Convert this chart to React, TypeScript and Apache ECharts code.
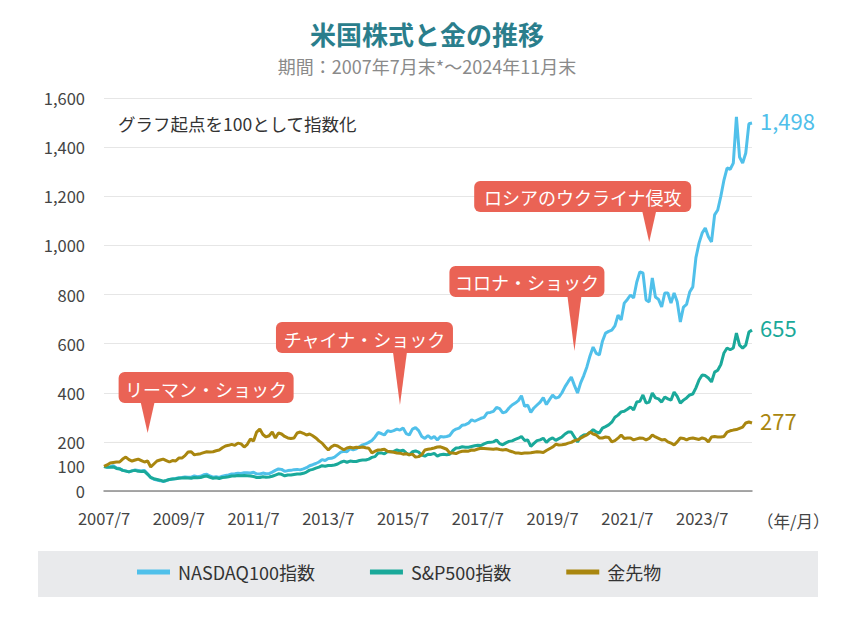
import React, { useEffect, useRef } from "react";
import * as echarts from "echarts";

// ---- data (monthly, 2007/7 – 2024/11, start = 100) ----
const nasdaq100: number[] = [
  100, 98, 99, 103, 94, 92,
  84, 82, 78, 82, 86, 84, 82, 83, 70, 55, 48, 45,
  42, 38, 42, 47, 49, 51, 54, 55, 57, 56, 56, 61,
  58, 60, 66, 68, 61, 56, 58, 55, 60, 63, 65, 69,
  70, 72, 71, 74, 74, 73, 76, 70, 69, 73, 70, 71,
  77, 84, 90, 88, 80, 83, 84, 87, 88, 86, 90, 95,
  103, 107, 112, 118, 128, 124, 132, 133, 138, 148, 158, 162,
  160, 172, 168, 172, 180, 188, 192, 198, 206, 220, 238, 234,
  228, 245, 242, 246, 252, 248, 256, 234, 228, 252, 258, 246,
  222, 214, 226, 214, 222, 208, 222, 220, 222, 226, 244, 252,
  256, 268, 270, 276, 290, 284, 290, 296, 300, 318, 320, 324,
  340, 335, 318, 322, 338, 350, 358, 368, 388, 345, 350, 320,
  338, 350, 362, 380, 352, 372, 390, 378, 382, 400, 425, 445,
  464, 430, 399, 440, 470, 505, 550, 586, 560, 554, 610, 643,
  650, 655, 672, 716, 696, 765, 780, 798, 786, 850, 892, 888,
  778, 770, 867, 790, 780, 749, 806, 806, 765, 806, 770, 688,
  749, 760, 810, 831, 950, 1009, 1050, 1071, 1035, 1014, 1124, 1144,
  1200, 1266, 1315, 1310, 1335, 1523, 1360, 1335, 1376, 1495, 1498,
];

const sp500: number[] = [
  100, 97, 97, 98, 92, 90,
  84, 81, 78, 82, 84, 80, 79, 80, 68, 55, 50, 47,
  44, 40, 43, 47, 49, 50, 52, 53, 54, 53, 52, 55,
  54, 55, 59, 61, 56, 52, 54, 51, 55, 56, 58, 61,
  61, 63, 62, 63, 62, 61, 59, 55, 55, 58, 56, 57,
  60, 65, 70, 68, 62, 65, 65, 67, 69, 69, 72, 77,
  85, 88, 93, 97, 103, 101, 104, 104, 106, 110, 117, 122,
  117, 122, 120, 120, 124, 126, 126, 130, 137, 140, 155, 155,
  151, 161, 160, 161, 167, 163, 166, 155, 147, 160, 163, 158,
  146, 142, 150, 149, 153, 142, 148, 150, 148, 150, 165, 175,
  176, 180, 178, 178, 181, 184, 186, 185, 192, 197, 198, 200,
  208, 193, 188, 196, 202, 204, 210, 215, 222, 206, 208, 182,
  194, 205, 208, 215, 198, 210, 216, 206, 213, 220, 232, 240,
  240, 220, 200, 220, 228, 230, 238, 250, 240, 236, 256, 262,
  269, 280, 300, 309, 322, 325, 333, 342, 330, 362, 365, 391,
  358, 362, 399, 379, 375, 362, 383, 375, 370, 403, 385, 358,
  370, 379, 391, 395, 420, 452, 472, 470, 460, 444, 484, 492,
  515, 562, 582, 575, 582, 643, 594, 582, 594, 647, 655,
];

const goldFutures: number[] = [
  100, 106, 114, 116, 118, 118,
  130, 138, 128, 122, 126, 130, 124, 118, 122, 98, 110, 122,
  126, 130, 124, 118, 124, 122, 134, 134, 144, 159, 160, 147,
  150, 152, 156, 160, 159, 160, 164, 167, 176, 183, 186, 190,
  186, 195, 192, 179, 190, 212, 204, 240, 252, 230, 220, 225,
  240, 216, 236, 232, 222, 216, 214, 216, 236, 240, 235, 228,
  232, 225, 216, 204, 195, 180, 167, 180, 187, 183, 175, 168,
  175, 178, 175, 178, 177, 179, 176, 174, 155, 162, 167, 168,
  170, 162, 160, 158, 155, 154, 150, 152, 147, 150, 138, 140,
  148, 167, 170, 172, 175, 179, 180, 175, 170, 155, 155, 152,
  158, 162, 163, 162, 167, 166, 171, 174, 173, 172, 171, 170,
  172, 169, 167, 169, 164, 160, 155, 155, 153, 155, 155, 156,
  158, 160, 159, 157, 165, 172, 179, 190, 187, 188, 190, 195,
  198, 205, 208, 215, 222, 228, 240, 232, 228, 216, 216, 220,
  218, 200, 205, 215, 228, 214, 216, 216, 208, 212, 216, 215,
  208, 214, 228, 220, 214, 208, 210, 200, 195, 187, 200, 216,
  214, 208, 214, 216, 213, 210, 216, 212, 200, 220, 222, 220,
  220, 222, 240, 245, 248, 250, 255, 260, 277, 281, 277,
];

const seriesNames = ["NASDAQ100指数", "S&P500指数", "金先物"];
const yLabelValues = [0, 100, 200, 400, 600, 800, 1000, 1200, 1400, 1600];

// month categories 2007/7 ...
const categories: string[] = [];
for (let k = 0; k < nasdaq100.length; k++) {
  const m = 6 + k;
  categories.push(`${2007 + Math.floor(m / 12)}/${(m % 12) + 1}`);
}

// event annotations: label, anchor category, anchor value
const eventLabels = ["リーマン・ショック", "チャイナ・ショック", "コロナ・ショック", "ロシアのウクライナ侵攻"];
const eventAnchorCats = ["2008/9", "2015/6", "2020/2", "2022/2"];
const eventAnchorVals = [236, 350, 570, 1014];

const TITLE = "米国株式と金の推移";
const SUBTITLE = "期間：2007年7月末*～2024年11月末";
const NOTE = "グラフ起点を100として指数化";
const X_UNIT = "（年/月）";

// layout of callout boxes relative to anchor tip (dx of box left, gap above tip, width)
const calloutLayout = [
  { dx: -29, gap: 30, w: 175 },
  { dx: -124, gap: 52, w: 177 },
  { dx: -125, gap: 54, w: 155 },
  { dx: -175, gap: 30, w: 217 },
];

const COLORS = ["#50c0ea", "#1aa99a", "#a9860f"];
const RED = "#ea6355";
const JP = "'Noto Sans CJK JP', 'Noto Sans', sans-serif";
const NUM = "'Noto Sans CJK JP', 'Noto Sans', sans-serif";

export default function App() {
  const ref = useRef<HTMLDivElement>(null);
  useEffect(() => {
    if (!ref.current) return;
    const chart = echarts.init(ref.current, undefined, { renderer: "svg" });
    const dataSets = [nasdaq100, sp500, goldFutures];
    const option: any = {
      animation: false,
      backgroundColor: "#ffffff",
      title: [
        {
          text: TITLE,
          left: "center",
          top: 20,
          padding: 0,
          textStyle: { fontSize: 26, fontWeight: "bold", color: "#2a7e8c", fontFamily: JP },
        },
        {
          text: SUBTITLE,
          left: "center",
          top: 57,
          padding: 0,
          textStyle: { fontSize: 18, fontWeight: "normal", color: "#8a8a8a", fontFamily: JP },
        },
      ],
      grid: { left: 104, right: 102, top: 98, bottom: 134, containLabel: false },
      legend: {
        data: seriesNames,
        left: 132,
        top: 558,
        icon: "rect",
        itemWidth: 33,
        itemHeight: 5,
        itemGap: 55,
        textStyle: { fontSize: 18, color: "#333", fontFamily: JP, padding: [0, 0, 0, 3] },
      },
      xAxis: {
        type: "category",
        data: categories,
        boundaryGap: false,
        axisLine: { lineStyle: { color: "#8c8c8c", width: 1.5 } },
        axisTick: { show: false },
        axisLabel: { interval: 23, fontSize: 16.5, color: "#444", margin: 19, fontFamily: NUM },
        splitLine: { show: false },
      },
      yAxis: {
        type: "value",
        min: 0,
        max: 1600,
        interval: 100,
        axisLine: { show: false },
        axisTick: { show: false },
        axisLabel: {
          fontSize: 16.5,
          color: "#444",
          margin: 19,
          fontFamily: NUM,
          formatter: (v: number) => (yLabelValues.indexOf(v) >= 0 ? echarts.format.addCommas(v) : ""),
        },
        splitLine: {
          show: true,
          showMinLine: true,
          lineStyle: { color: ["#e6e6e6", "rgba(0,0,0,0)"], width: 1 },
        },
      },
      series: seriesNames.map((name, i) => ({
        name,
        type: "line",
        data: dataSets[i],
        showSymbol: false,
        symbol: "none",
        lineStyle: { width: 3, color: COLORS[i] },
        itemStyle: { color: COLORS[i] },
        emphasis: { disabled: true },
        endLabel: {
          show: true,
          distance: 8,
          offset: [0, -3],
          fontSize: 22,
          color: COLORS[i],
          fontFamily: NUM,
          formatter: (p: any) => echarts.format.addCommas(p.value),
        },
      })),
    };
    chart.setOption(option);

    const graphics: any[] = [
      {
        type: "rect",
        z: -10,
        silent: true,
        shape: { x: 38, y: 551, width: 780, height: 46 },
        style: { fill: "#e9eaec" },
      },
      {
        type: "text",
        left: 118,
        top: 115,
        style: { text: NOTE, fontSize: 17.5, fill: "#333", fontFamily: JP },
      },
      {
        type: "text",
        x: 757,
        y: 521,
        style: { text: X_UNIT, fontSize: 16.5, fill: "#444", fontFamily: JP, verticalAlign: "middle" },
      },
    ];
    eventLabels.forEach((label, i) => {
      const tip = chart.convertToPixel({ gridIndex: 0 }, [eventAnchorCats[i], eventAnchorVals[i]]) as number[];
      const L = calloutLayout[i];
      const h = 31;
      const bottom = tip[1] - L.gap;
      const top = bottom - h;
      const left = tip[0] + L.dx;
      graphics.push({
        type: "group",
        children: [
          {
            type: "rect",
            shape: { x: left, y: top, width: L.w, height: h, r: 6 },
            style: { fill: RED },
          },
          {
            type: "polygon",
            shape: { points: [[tip[0] - 7, bottom - 1], [tip[0] + 7, bottom - 1], [tip[0], tip[1]]] },
            style: { fill: RED },
          },
          {
            type: "text",
            x: left + L.w / 2,
            y: top + h / 2 + 1,
            style: {
              text: label,
              fontSize: 18,
              fill: "#ffffff",
              fontFamily: JP,
              align: "center",
              verticalAlign: "middle",
            },
          },
        ],
      });
    });
    chart.setOption({ graphic: graphics });
    return () => chart.dispose();
  }, []);
  return (
    <div
      ref={ref}
      style={{ position: "fixed", left: 0, top: 0, width: 854, height: 625, background: "#fff" }}
    />
  );
}
